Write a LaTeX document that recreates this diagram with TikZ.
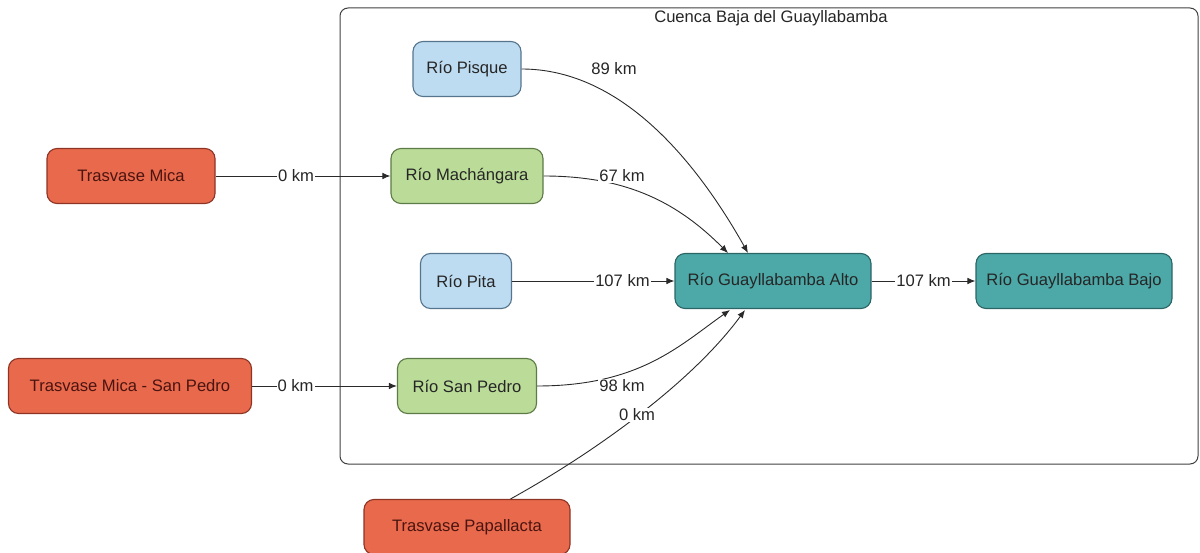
\documentclass[tikz,border=0pt]{standalone}
\usepackage{fontspec}
\setmainfont{Liberation Sans}
\usetikzlibrary{arrows.meta}
\definecolor{redf}{HTML}{E9694C}
\definecolor{redd}{HTML}{8E3424}
\definecolor{redt}{HTML}{4A1410}
\definecolor{bluef}{HTML}{BEDCF1}
\definecolor{blued}{HTML}{56758C}
\definecolor{greenf}{HTML}{BADC98}
\definecolor{greend}{HTML}{5D7B46}
\definecolor{tealf}{HTML}{4DA8A8}
\definecolor{teald}{HTML}{2C6565}
\definecolor{linec}{HTML}{2A2A2A}
\tikzset{
  box/.style={draw, rounded corners=10pt, line width=1.1pt, minimum height=55pt, inner sep=0pt, font=\fontsize{16.6}{19}\selectfont},
  redbox/.style={box, fill=redf, draw=redd, text=redt},
  bluebox/.style={box, fill=bluef, draw=blued, text=black!85},
  greenbox/.style={box, fill=greenf, draw=greend, text=black!85},
  tealbox/.style={box, fill=tealf, draw=teald, text=black!85},
  conn/.style={draw=linec, line width=0.9pt, -{Latex[length=8pt,width=6.5pt]}},
  lbl/.style={fill=white, inner sep=1pt, font=\fontsize{16.6}{19}\selectfont, text=black!85}
}
\begin{document}
\begin{tikzpicture}[x=1pt,y=-1pt]
\useasboundingbox (0,0) rectangle (1200,553);
% container
\draw[line width=1pt, draw=black!75, rounded corners=8pt] (340,8) rectangle (1198,464);
\node[font=\fontsize{16.6}{19}\selectfont, text=black!85] (title) at (771,18) {Cuenca Baja del Guayllabamba};
% nodes
\node[redbox, minimum width=168pt] (mica) at (131,176) {Trasvase Mica};
\node[redbox, minimum width=243pt] (msp) at (130,386) {Trasvase Mica - San Pedro};
\node[redbox, minimum width=206pt] (papa) at (467,527) {Trasvase Papallacta};
\node[bluebox, minimum width=108pt] (pisque) at (467,69) {Río Pisque};
\node[greenbox, minimum width=152pt] (mach) at (467,176) {Río Machángara};
\node[bluebox, minimum width=91pt] (pita) at (466,281) {Río Pita};
\node[greenbox, minimum width=139pt] (sanp) at (467,386) {Río San Pedro};
\node[tealbox, minimum width=196pt] (alto) at (773,281) {Río Guayllabamba Alto};
\node[tealbox, minimum width=196pt] (bajo) at (1074,281) {Río Guayllabamba Bajo};
% connectors
\draw[conn] (mica.east) -- node[lbl, pos=0.46] (l1) {0 km} (mach.west);
\draw[conn] (msp.east) -- node[lbl, pos=0.3] (l2) {0 km} (sanp.west);
\draw[conn] (pita.east) -- node[lbl, pos=0.68] (l3) {107 km} (alto.west);
\draw[conn] (alto.east) -- node[lbl, pos=0.5] (l4) {107 km} (bajo.west);
\coordinate (a1) at (748,253);
\coordinate (a2) at (728,253);
\coordinate (a3) at (730,310);
\coordinate (a4) at (745,310);
\draw[conn] (pisque.east) .. controls (615,69) and (690,150) .. (a1);
\draw[conn] (mach.east) .. controls (630,176) and (680,205) .. (a2);
\draw[conn] (sanp.east) .. controls (640,386) and (680,345) .. (a3);
\draw[conn] (papa.north east) ++(-60,0) coordinate (p0) .. controls (590,455) and (690,385) .. (a4);
% labels
\node[lbl, fill=none] (l5) at (614,69) {89 km};
\node[lbl] (l6) at (622,176) {67 km};
\node[lbl] (l7) at (622,386) {98 km};
\node[lbl] (l8) at (637,415) {0 km};
\end{tikzpicture}
\end{document}
